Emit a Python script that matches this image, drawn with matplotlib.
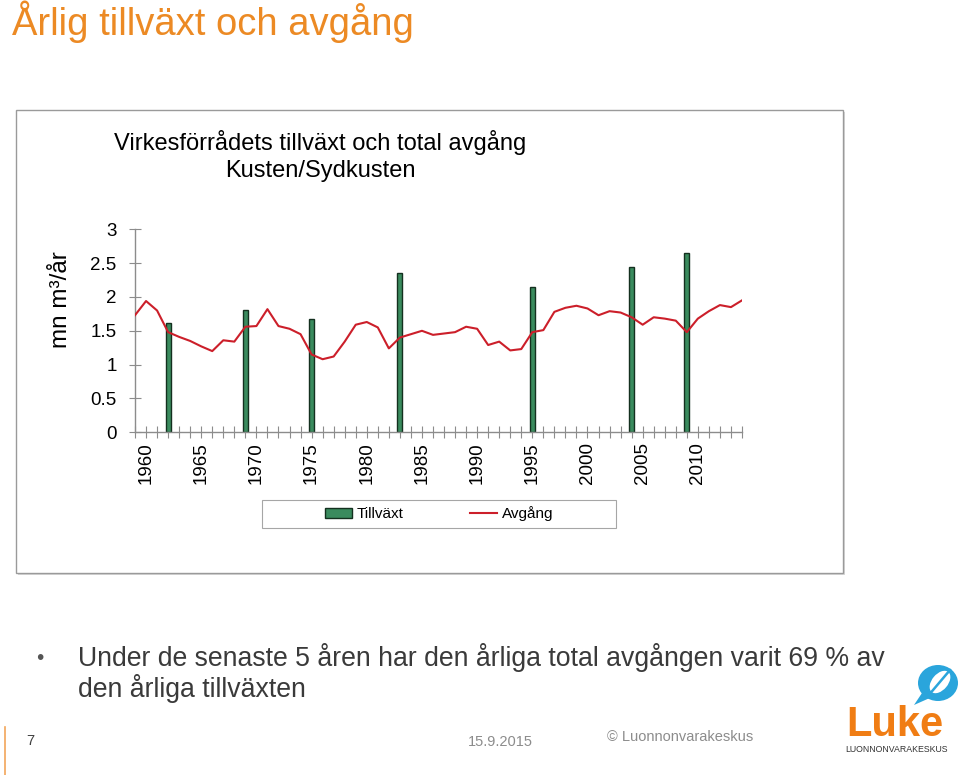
import matplotlib
matplotlib.use("Agg")
import matplotlib.pyplot as plt
from matplotlib.patches import Rectangle, Ellipse, Polygon

plt.rcParams['font.family'] = ['Liberation Sans', 'DejaVu Sans']

# ----------------------------- data -----------------------------
years = list(range(1959, 2015))
avgang = [1.73, 1.94, 1.80, 1.48, 1.41, 1.35, 1.27, 1.20, 1.36, 1.34,
          1.56, 1.57, 1.82, 1.57, 1.53, 1.45, 1.15, 1.08, 1.12, 1.34,
          1.59, 1.63, 1.55, 1.24, 1.40, 1.45, 1.50, 1.44, 1.46, 1.48,
          1.56, 1.53, 1.29, 1.34, 1.21, 1.23, 1.48, 1.51, 1.78, 1.84,
          1.87, 1.83, 1.73, 1.79, 1.77, 1.70, 1.59, 1.70, 1.68, 1.65,
          1.48, 1.68, 1.79, 1.88, 1.85, 1.95]
tillv_years = [1962, 1969, 1975, 1983, 1995, 2004, 2009]
tillv = [1.61, 1.81, 1.67, 2.36, 2.14, 2.44, 2.65]
label_years = list(range(1960, 2011, 5))
yticks = [0, 0.5, 1, 1.5, 2, 2.5, 3]
ytick_labels = ['0', '0.5', '1', '1.5', '2', '2.5', '3']

ORANGE = '#EC8A24'
GREEN = '#3A8B5E'
RED = '#CC1F2A'
GRAY_AX = '#8c8c8c'

W, H = 960, 775
fig = plt.figure(figsize=(9.6, 7.75), dpi=100)

# background layer in pixel coordinates
bg = fig.add_axes([0, 0, 1, 1], zorder=-1)
bg.set_xlim(0, W)
bg.set_ylim(H, 0)
bg.axis('off')

# slide title
bg.text(12, 35, 'Årlig tillväxt och avgång', color=ORANGE, fontsize=27.5,
        ha='left', va='baseline')

# chart frame
bg.add_patch(Rectangle((18, 112), 827, 463, facecolor='#d8d8d8', edgecolor='none'))
bg.add_patch(Rectangle((16, 110), 827, 463, facecolor='white', edgecolor='#9a9a9a', lw=1.0))

# chart title
bg.text(320, 150, 'Virkesförrådets tillväxt och total avgång', fontsize=17,
        ha='center', va='baseline', color='black')
bg.text(320, 176.5, 'Kusten/Sydkusten', fontsize=17,
        ha='center', va='baseline', color='black')

# y label
bg.text(61, 300, 'mn m³/år', fontsize=17.5, rotation=90, ha='center', va='center')

# legend frame
bg.add_patch(Rectangle((262, 500), 354, 28, facecolor='white', edgecolor='#a6a6a6', lw=0.8))

# bullet text
bg.text(40, 664, '•', fontsize=15, color='#555555', ha='center', va='baseline')
bg.text(78, 666, 'Under de senaste 5 åren har den årliga total avgången varit 69 % av',
        fontsize=19.2, color='#3a3a3a', ha='left', va='baseline')
bg.text(78, 697, 'den årliga tillväxten',
        fontsize=19.2, color='#3a3a3a', ha='left', va='baseline')

# footer
bg.plot([5, 5], [727, 775], color='#F2A65A', lw=1.2)
bg.text(30, 741, '7', fontsize=10.5, color='#404040', ha='center', va='center')
bg.text(500, 742, '15.9.2015', fontsize=10.5, color='#8c8c8c', ha='center', va='center')
bg.text(680, 737, '© Luonnonvarakeskus', fontsize=10.5, color='#8c8c8c',
        ha='center', va='center')

# logo
bg.add_patch(Polygon([[924, 690], [914, 705], [932, 697]], closed=True,
                     facecolor='#2AA5DC', edgecolor='none'))
bg.add_patch(Ellipse((938, 683), 40, 36, facecolor='#2AA5DC', edgecolor='none'))
bg.add_patch(Ellipse((940, 682), 26, 16, angle=-50, facecolor='white', edgecolor='none'))
bg.plot([928, 950], [696, 670], color='#2AA5DC', lw=1.8)
bg.text(895, 736, 'Luke', fontsize=30, fontweight='bold', color='#F07D14',
        ha='center', va='baseline')
bg.text(896, 752, 'LUONNONVARAKESKUS', fontsize=6.3, color='#333333',
        ha='center', va='baseline')

# ----------------------------- chart -----------------------------
x0, x1 = 135, 742
y0, y1 = 432.3, 229.3
ax = fig.add_axes([x0 / W, 1 - y0 / H, (x1 - x0) / W, (y0 - y1) / H])
ax.set_facecolor('none')

bars = ax.bar(tillv_years, tillv, width=0.45, color=GREEN, edgecolor='#14301f',
              lw=1.0, label='Tillväxt', zorder=2)
line, = ax.plot(years, avgang, color=RED, lw=1.5, label='Avgång', zorder=3)

ax.set_xlim(years[0], years[-1])
ax.set_ylim(0, 3)
ax.set_yticks(yticks)
ax.set_yticklabels(ytick_labels, fontsize=13.5)
ax.set_xticks(years)
ax.set_xticklabels([str(y) if y in label_years else '' for y in years],
                   rotation=90, fontsize=13.5)

for s in ['top', 'right']:
    ax.spines[s].set_visible(False)
for s in ['left', 'bottom']:
    ax.spines[s].set_color(GRAY_AX)
    ax.spines[s].set_linewidth(1.0)
ax.tick_params(axis='both', direction='inout', length=8.6, width=0.8,
               color=GRAY_AX)
ax.tick_params(axis='y', pad=9)
ax.tick_params(axis='x', pad=3)

fig.legend([bars, line], ['Tillväxt', 'Avgång'], loc='center',
           bbox_to_anchor=(439 / W, 1 - 514 / H),
           ncol=2, frameon=False, fontsize=11, handlelength=1.75,
           handleheight=0.6, handletextpad=0.3, columnspacing=4.4)

fig.savefig('out.png', dpi=100)
